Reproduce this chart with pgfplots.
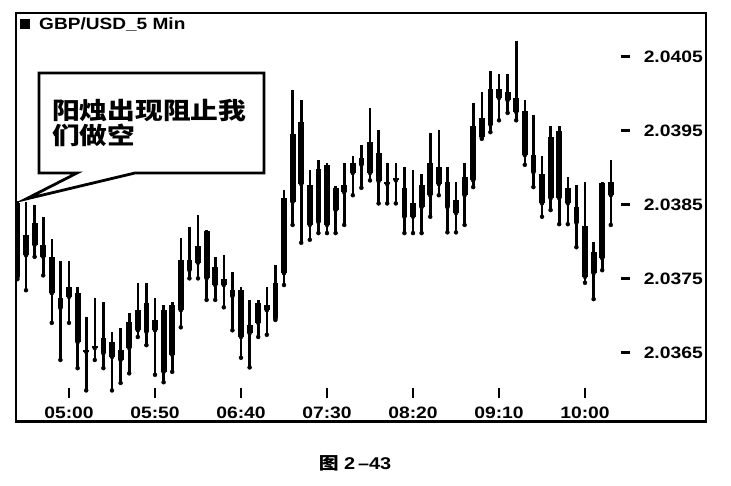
\documentclass[border=0pt]{standalone}
\usepackage{fontspec}
\setmainfont{Liberation Sans}[FakeStretch=1.17]
\newfontfamily\cjk{Noto Sans CJK SC}[FakeStretch=1.17]
\usepackage{pgfplots}
\usepackage{pgfplotstable}
\pgfplotsset{compat=1.18}

% GBP/USD 5 min, bar index k: 0 = 05:00
\pgfplotstableread{
k  open    high    low     close
-6 2.03852 2.03855 2.03750 2.03753
-5 2.03782 2.03854 2.03735 2.03809
-4 2.03826 2.03850 2.03780 2.03796
-3 2.03796 2.03834 2.03755 2.03780
-2 2.03780 2.03804 2.03691 2.03731
-1 2.03711 2.03774 2.03641 2.03724
0  2.03739 2.03774 2.03691 2.03726
1  2.03731 2.03739 2.03630 2.03665
2  2.03654 2.03699 2.03600 2.03652
3  2.03657 2.03724 2.03641 2.03660
4  2.03671 2.03719 2.03630 2.03650
5  2.03665 2.03679 2.03600 2.03645
6  2.03641 2.03684 2.03610 2.03654
7  2.03657 2.03704 2.03623 2.03692
8  2.03681 2.03745 2.03672 2.03708
9  2.03718 2.03745 2.03661 2.03679
10 2.03695 2.03724 2.03621 2.03681
11 2.03708 2.03715 2.03611 2.03625
12 2.03648 2.03719 2.03625 2.03715
13 2.03708 2.03805 2.03685 2.03776
14 2.03762 2.03820 2.03751 2.03776
15 2.03772 2.03836 2.03751 2.03795
16 2.03815 2.03816 2.03722 2.03751
17 2.03766 2.03780 2.03722 2.03742
18 2.03750 2.03782 2.03712 2.03742
19 2.03735 2.03759 2.03681 2.03727
20 2.03735 2.03739 2.03644 2.03672
21 2.03677 2.03722 2.03631 2.03688
22 2.03691 2.03722 2.03672 2.03718
23 2.03715 2.03739 2.03675 2.03708
24 2.03697 2.03769 2.03695 2.03745
25 2.03758 2.03870 2.03742 2.03859
26 2.03854 2.04005 2.03823 2.03945
27 2.03962 2.03991 2.03799 2.03878
28 2.03877 2.03897 2.03803 2.03823
29 2.03827 2.03910 2.03812 2.03898
30 2.03904 2.03906 2.03812 2.03823
31 2.03843 2.03875 2.03812 2.03873
32 2.03867 2.03906 2.03823 2.03877
33 2.03893 2.03916 2.03863 2.03906
34 2.03904 2.03931 2.03873 2.03913
35 2.03935 2.03981 2.03883 2.03893
36 2.03920 2.03951 2.03852 2.03882
37 2.03881 2.03906 2.03852 2.03878
38 2.03883 2.03906 2.03852 2.03886
39 2.03873 2.03901 2.03812 2.03834
40 2.03852 2.03897 2.03812 2.03834
41 2.03847 2.03892 2.03812 2.03877
42 2.03863 2.03947 2.03834 2.03906
43 2.03901 2.03951 2.03863 2.03878
44 2.03881 2.03901 2.03813 2.03847
45 2.03857 2.03881 2.03813 2.03839
46 2.03863 2.03906 2.03823 2.03888
47 2.03883 2.03987 2.03874 2.03956
48 2.03941 2.04002 2.03939 2.03967
49 2.03958 2.04030 2.03948 2.04006
50 2.04006 2.04026 2.03964 2.03994
51 2.04002 2.04026 2.03974 2.03991
52 2.03994 2.04071 2.03964 2.03975
53 2.03976 2.03991 2.03904 2.03917
54 2.03917 2.03971 2.03874 2.03894
55 2.03892 2.03916 2.03834 2.03852
56 2.03859 2.03956 2.03843 2.03941
57 2.03950 2.03956 2.03824 2.03859
58 2.03873 2.03888 2.03824 2.03852
59 2.03847 2.03877 2.03793 2.03826
60 2.03821 2.03881 2.03745 2.03753
61 2.03758 2.03800 2.03723 2.03786
62 2.03778 2.03881 2.03762 2.03879
63 2.03863 2.03910 2.03823 2.03881
}\candles

\begin{document}
\begin{tikzpicture}
\path[use as bounding box] (0pt,0pt) rectangle (731pt,485pt);
\begin{axis}[
  at={(16pt,63.5pt)}, anchor=south west,
  scale only axis, width=690pt, height=408.5pt,
  xmin=-6.163, xmax=74.07,
  ymin=2.035581, ymax=2.041086,
  axis line style={line width=2.4pt},
  /pgf/number format/assume math mode=true,
  major tick length=0pt,
  tick style={draw=none},
  xtick={0,10,20,30,40,50,60},
  xticklabels={{\rule{2.6pt}{10pt}\\05:00},{\rule{2.6pt}{10pt}\\05:50},
    {\rule{2.6pt}{10pt}\\06:40},{\rule{2.6pt}{10pt}\\07:30},
    {\rule{2.6pt}{10pt}\\08:20},{\rule{2.6pt}{10pt}\\09:10},
    {\rule{2.6pt}{10pt}\\10:00}},
  xticklabel style={anchor=south, yshift=3pt, inner sep=0pt, align=center,
    font=\fontsize{16.5}{20}\selectfont\bfseries},
  ytick={2.0365,2.0375,2.0385,2.0395,2.0405},
  yticklabel pos=right,
  yticklabel={\rule[4.5pt]{9pt}{3pt}\hspace{14pt}\pgfmathprintnumber[fixed,precision=4,fixed zerofill]{\tick}},
  yticklabel style={anchor=east, xshift=-3pt, inner sep=0pt,
    font=\fontsize{16.5}{18}\selectfont\bfseries},
]
% wicks
\addplot[only marks, mark=none, forget plot,
  error bars/.cd, y dir=plus, y explicit, error mark=none,
  error bar style={draw=black, solid, line width=2.6pt}]
  table[x=k, y=low, y error expr={\thisrow{high}-\thisrow{low}}] {\candles};
% bodies
\addplot[only marks, mark=none, forget plot,
  error bars/.cd, y dir=plus, y explicit, error mark=none,
  error bar style={draw=black, solid, line width=5.8pt}]
  table[x=k, y expr={min(\thisrow{open},\thisrow{close})},
    y error expr={abs(\thisrow{close}-\thisrow{open})}] {\candles};
\end{axis}
% chart title
\node[anchor=base west, inner sep=0pt, font=\fontsize{16.3}{18}\selectfont\bfseries]
  at (20pt,455pt) {\rule[1pt]{10pt}{10pt}\hspace{9pt}GBP/USD\_5 Min};
% callout
\draw[line width=2.8pt, fill=white] (39pt,412pt) -- (264pt,412pt) -- (264pt,312pt)
  -- (135pt,312pt) -- (26pt,286pt) -- (77pt,312pt) -- (39pt,312pt) -- cycle;
\node[anchor=base west, inner sep=0pt, font=\cjk\bfseries\fontsize{23.7}{25}\selectfont]
  at (52pt,365.3pt) {阳烛出现阻止我};
\node[anchor=base west, inner sep=0pt, font=\cjk\bfseries\fontsize{23.7}{25}\selectfont]
  at (52pt,340.3pt) {们做空};
% caption
\node[anchor=base, inner sep=0pt, font=\fontsize{17}{20}\selectfont\bfseries]
  at (355pt,16pt) {{\cjk 图} 2\,–43};
\end{tikzpicture}
\end{document}
